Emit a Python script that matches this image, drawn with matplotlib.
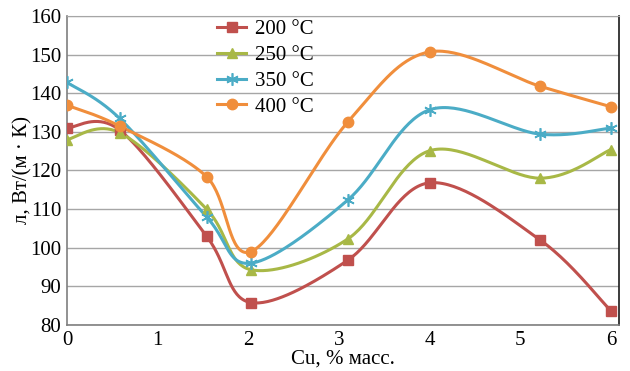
import numpy as np
import matplotlib
matplotlib.use("Agg")
import matplotlib.pyplot as plt

plt.rcParams['font.family'] = ['Liberation Serif', 'DejaVu Serif']

cu = [0, 0.58, 1.54, 2.03, 3.1, 4.0, 5.22, 6.0]
lam_200 = [131, 130.5, 103, 85.8, 96.8, 116.8, 102, 83.7]
lam_250 = [128, 129.8, 110, 94.3, 102.3, 125.1, 118, 125.4]
lam_350 = [142.8, 133.5, 108, 96, 112.4, 135.7, 129.4, 131]
lam_400 = [136.9, 131.5, 118.4, 99, 132.6, 150.7, 141.8, 136.5]
labels = ['200 °C', '250 °C', '350 °C', '400 °C']
colors = ['#C0504D', '#A8B846', '#4BACC6', '#F08E3C']
markers = ['s', '^', (6, 2, 0), 'o']


def smooth(x, y, n=40):
    # Catmull-Rom style bezier, like spreadsheet "smoothed line"
    p = np.column_stack([x, y]).astype(float)
    ext = np.vstack([p[0], p, p[-1]])
    out = []
    t = np.linspace(0, 1, n)[:, None]
    for i in range(len(p) - 1):
        p0, p1, p2, p3 = ext[i], ext[i + 1], ext[i + 2], ext[i + 3]
        c1 = p1 + (p2 - p0) / 6
        c2 = p2 - (p3 - p1) / 6
        seg = ((1 - t) ** 3) * p1 + 3 * ((1 - t) ** 2) * t * c1 + 3 * (1 - t) * t ** 2 * c2 + t ** 3 * p2
        out.append(seg)
    out = np.vstack(out)
    return out[:, 0], out[:, 1]


fig = plt.figure(figsize=(6.3, 3.71), dpi=100)
ax = fig.add_axes([0.1063, 0.124, 0.8762, 0.833])

for ys, lab, c, m in zip([lam_200, lam_250, lam_350, lam_400], labels, colors, markers):
    sx, sy = smooth(cu, ys)
    ax.plot(sx, sy, color=c, lw=2.2, zorder=3)
    star = isinstance(m, tuple)
    ax.plot(cu, ys, ls='none', marker=m, ms=9 if star else 7.5,
            mew=1.2 if star else 1, color=c, zorder=4)
    ax.plot([], [], color=c, lw=2.2, marker=m, ms=9 if star else 7.5,
            mew=1.2 if star else 1, label=lab)

ax.set_xlim(0, 6.09)
ax.set_ylim(80, 160)
ax.set_xticks(range(0, 7))
ax.set_yticks(range(80, 161, 10))
ax.yaxis.grid(True, color='#a6a6a6', lw=1)
ax.set_axisbelow(True)
ax.tick_params(axis='both', labelsize=15, length=0, pad=4)
ax.tick_params(axis='x', pad=4)

for s in ['left', 'bottom']:
    ax.spines[s].set_color('#7f7f7f')
    ax.spines[s].set_linewidth(1.2)
ax.spines['top'].set_color('#a6a6a6')
ax.spines['right'].set_color('#1a1a1a')
ax.spines['right'].set_linewidth(1.2)

ax.set_xlabel('Cu, % масс.', fontsize=15, labelpad=0)
ax.set_ylabel('л, Вт/(м · К)', fontsize=15, labelpad=-2)

ax.legend(loc='upper left', bbox_to_anchor=(0.257, 1.015), frameon=False,
          fontsize=15, handlelength=1.4, handletextpad=0.4, labelspacing=0.3,
          borderaxespad=0)

fig.savefig('out.png', dpi=100)
